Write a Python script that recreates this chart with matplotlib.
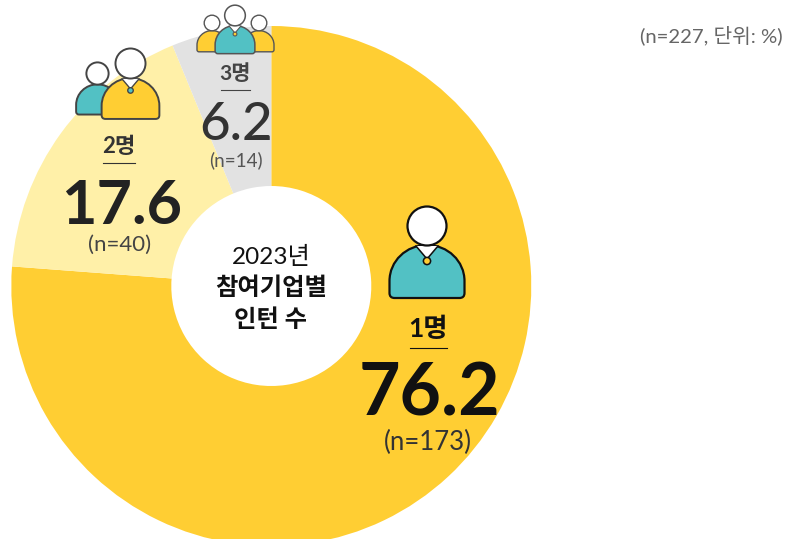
import matplotlib
matplotlib.use("Agg")
from matplotlib import pyplot as plt
from matplotlib.patches import Circle, PathPatch, Polygon
from matplotlib.path import Path

plt.rcParams['font.family'] = ['Lato', 'Noto Sans CJK KR', 'DejaVu Sans']

# share of interns per company, clockwise from the top
labels = ['1명', '2명', '3명']
shares = [76.2, 17.6, 6.2]
counts = ['(n=173)', '(n=40)', '(n=14)']
colors = ['#FFCE33', '#FFF0A8', '#E2E2E2']

W, H = 787, 539
YELLOW = '#FFCE33'
TEAL = '#52C1C4'


def Y(y):
    # pixel row in the picture -> axes y
    return H - y


def person(ax, cx, cy, s, body, dot, edge, lw, z=5):
    # cx, cy = centre of the head in picture pixels, s = size
    # dot=None leaves out the collar and button (the people at the back)
    top, bot = Y(cy + 19 * s), Y(cy + 72 * s)
    hw, r = 37.5 * s, 5 * s
    h = top - bot
    k = 0.5523
    side = bot + h * 0.32
    verts = [(cx - hw + r, bot), (cx + hw - r, bot),
             (cx + hw, bot), (cx + hw, bot + r),
             (cx + hw, side),
             (cx + hw, side + (top - side) * k), (cx + hw * k, top), (cx, top),
             (cx - hw * k, top), (cx - hw, side + (top - side) * k), (cx - hw, side),
             (cx - hw, bot + r),
             (cx - hw, bot), (cx - hw + r, bot), (cx - hw + r, bot)]
    codes = [Path.MOVETO, Path.LINETO,
             Path.CURVE3, Path.CURVE3,
             Path.LINETO,
             Path.CURVE4, Path.CURVE4, Path.CURVE4,
             Path.CURVE4, Path.CURVE4, Path.CURVE4,
             Path.LINETO,
             Path.CURVE3, Path.CURVE3, Path.CLOSEPOLY]
    ax.add_patch(PathPatch(Path(verts, codes), fc=body, ec=edge, lw=lw, zorder=z, joinstyle='round'))
    if dot is not None:
        ax.add_patch(Polygon([(cx - 11 * s, Y(cy + 20 * s)), (cx, Y(cy + 33 * s)), (cx + 11 * s, Y(cy + 20 * s))],
                             closed=True, fc='white', ec='none', zorder=z))
        ax.plot([cx - 11 * s, cx], [Y(cy + 20 * s), Y(cy + 33 * s)], color=edge, lw=lw * 0.7, zorder=z)
        ax.plot([cx + 11 * s, cx], [Y(cy + 20 * s), Y(cy + 33 * s)], color=edge, lw=lw * 0.7, zorder=z)
        ax.add_patch(Circle((cx, Y(cy + 35 * s)), 3.6 * s, fc=dot, ec=edge, lw=lw * 0.7, zorder=z))
    ax.add_patch(Circle((cx, Y(cy)), 19.5 * s, fc='white', ec=edge, lw=lw, zorder=z))


fig = plt.figure(figsize=(W / 100, H / 100), dpi=100)
ax = fig.add_axes([0, 0, 1, 1])
ax.pie(shares, colors=colors, startangle=90, counterclock=False, center=(271.3, Y(286)), radius=260,
       wedgeprops=dict(width=160, linewidth=0), normalize=True)
ax.set_xlim(0, W)
ax.set_ylim(0, H)
ax.set_aspect('equal')
ax.axis('off')

# icons
person(ax, 427, 226, 1.0, TEAL, YELLOW, '#111111', 1.6)
person(ax, 97.5, 73.5, 0.57, TEAL, None, '#444444', 1.4, z=5)
person(ax, 130.5, 63.5, 0.77, YELLOW, TEAL, '#444444', 1.4, z=6)
person(ax, 212, 23, 0.40, YELLOW, None, '#555555', 1.0, z=5)
person(ax, 259, 23, 0.40, YELLOW, None, '#555555', 1.0, z=5)
person(ax, 235, 15.5, 0.53, TEAL, YELLOW, '#555555', 1.1, z=6)

# labels
ax.text(428, Y(337), labels[0], ha='center', va='baseline', fontsize=19, fontweight='bold', color='#111111')
ax.plot([410, 447], [Y(348), Y(348)], color='#111111', lw=0.8)
ax.text(429, Y(416), f'{shares[0]}', ha='center', va='baseline', fontsize=51.5, fontweight='bold', color='#111111')
ax.text(428, Y(442), counts[0], ha='center', va='center', fontsize=18.5, color='#333333')

ax.text(119, Y(153), labels[1], ha='center', va='baseline', fontsize=16, fontweight='bold', color='#333333')
ax.plot([103, 135], [Y(163), Y(163)], color='#333333', lw=0.8)
ax.text(122, Y(224), f'{shares[1]}', ha='center', va='baseline', fontsize=44, fontweight='bold', color='#222222')
ax.text(120, Y(245), counts[1], ha='center', va='center', fontsize=16, color='#444444')

ax.text(235, Y(80), labels[2], ha='center', va='baseline', fontsize=15, fontweight='bold', color='#444444')
ax.plot([221, 250], [Y(90), Y(90)], color='#444444', lw=0.8)
ax.text(236, Y(140), f'{shares[2]}', ha='center', va='baseline', fontsize=38, fontweight=500, color='#333333')
ax.text(236, Y(160), counts[2], ha='center', va='center', fontsize=13.5, color='#555555')

# centre
ax.text(271, Y(256.5), '2023년', ha='center', va='center', fontsize=17.5, color='#111111')
ax.text(271, Y(287.5), '참여기업별', ha='center', va='center', fontsize=17.5, fontweight='bold', color='#111111')
ax.text(271, Y(319.5), '인턴 수', ha='center', va='center', fontsize=17.5, fontweight='bold', color='#111111')

ax.text(783, Y(35), '(n=227, 단위: %)', ha='right', va='center', fontsize=14.6, color='#666666')

fig.savefig('out.png', dpi=100)
